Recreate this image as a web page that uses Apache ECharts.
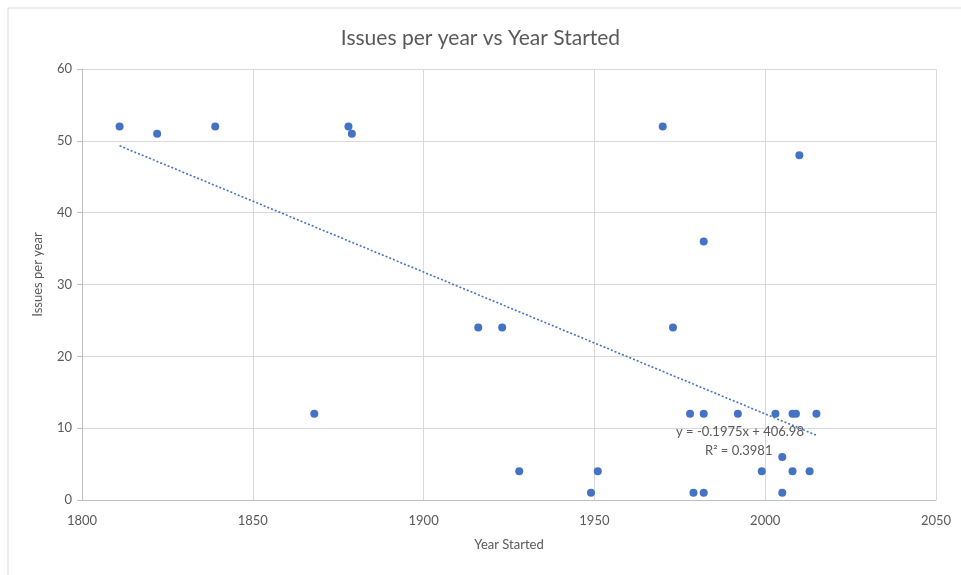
<!DOCTYPE html>
<html>
<head>
<meta charset="utf-8">
<script src="https://cdn.jsdelivr.net/npm/echarts@6/dist/echarts.min.js"></script>
<style>
  html, body { margin: 0; padding: 0; background: #ffffff; }
  #chart { width: 961px; height: 575px; }
</style>
</head>
<body>
<div id="chart"></div>
<script>
// Data
const yearsStarted = [1811, 1822, 1839, 1868, 1878, 1879, 1916, 1923, 1928, 1949,
                      1951, 1970, 1973, 1978, 1979, 1982, 1982, 1982, 1992, 1999,
                      2003, 2005, 2005, 2008, 2009, 2008, 2010, 2013, 2015];
const issuesPerYear = [52, 51, 52, 12, 52, 51, 24, 24, 4, 1,
                       4, 52, 24, 12, 1, 36, 12, 1, 12, 4,
                       12, 6, 1, 12, 12, 4, 48, 4, 12];
const xTicks = [1800, 1850, 1900, 1950, 2000, 2050];
const yTicks = [0, 10, 20, 30, 40, 50, 60];
const trendSlope = -0.1975;
const trendIntercept = 406.98;
const trendEquation = 'y = -0.1975x + 406.98';
const trendR2 = 'R² = 0.3981';

const points = yearsStarted.map((x, i) => [x, issuesPerYear[i]]);
const minX = Math.min(...yearsStarted);
const maxX = Math.max(...yearsStarted);
const trendPoints = [minX, maxX].map(x => [x, trendSlope * x + trendIntercept]);

const FONT = 'Lato';
const chart = echarts.init(document.getElementById('chart'));
chart.setOption({
  animation: false,
  backgroundColor: '#ffffff',
  textStyle: { fontFamily: FONT },
  graphic: [{
    type: 'rect',
    shape: { x: 8, y: 8, width: 1000, height: 1000 },
    style: { fill: 'none', stroke: '#d9d9d9', lineWidth: 1 },
    silent: true
  }, {
    type: 'text',
    left: 676, top: 425,
    style: { text: trendEquation, font: '13px ' + FONT, fill: '#595959' },
    z: 10
  }, {
    type: 'text',
    left: 705, top: 444,
    style: { text: trendR2, font: '13px ' + FONT, fill: '#595959' },
    z: 10
  }],
  title: {
    text: 'Issues per year vs Year Started',
    left: 'center',
    top: 23,
    textStyle: { fontFamily: FONT, fontSize: 21, fontWeight: 'normal', color: '#595959' }
  },
  grid: { left: 82, right: 25, top: 69, bottom: 75, containLabel: false },
  xAxis: {
    type: 'value',
    min: xTicks[0], max: xTicks[xTicks.length - 1], interval: 50,
    name: 'Year Started',
    nameLocation: 'middle',
    nameGap: 38,
    nameTextStyle: { fontFamily: FONT, fontSize: 13, color: '#595959' },
    axisLine: { show: true, lineStyle: { color: '#bfbfbf' } },
    axisTick: { show: false },
    axisLabel: { color: '#595959', fontSize: 13, margin: 14, fontFamily: FONT,
                 formatter: v => String(v) },
    splitLine: { show: true, lineStyle: { color: '#d9d9d9' } }
  },
  yAxis: {
    type: 'value',
    min: yTicks[0], max: yTicks[yTicks.length - 1], interval: 10,
    name: 'Issues per year',
    nameLocation: 'middle',
    nameGap: 38,
    nameTextStyle: { fontFamily: FONT, fontSize: 13, color: '#595959', padding: [0, 0, 0, 20] },
    axisLine: { show: true, lineStyle: { color: '#bfbfbf' } },
    axisTick: { show: true, length: 5, lineStyle: { color: '#bfbfbf' } },
    axisLabel: { color: '#595959', fontSize: 13, margin: 10, fontFamily: FONT },
    splitLine: { show: true, lineStyle: { color: '#d9d9d9' } }
  },
  series: [{
    type: 'scatter',
    data: points,
    symbol: 'circle',
    symbolSize: 8,
    itemStyle: { color: '#4472C4', opacity: 1 },
    z: 3
  }, {
    type: 'line',
    data: trendPoints,
    symbol: 'none',
    lineStyle: { color: '#4472C4', width: 1.6, type: [2, 2] },
    z: 2
  }]
});
</script>
</body>
</html>
